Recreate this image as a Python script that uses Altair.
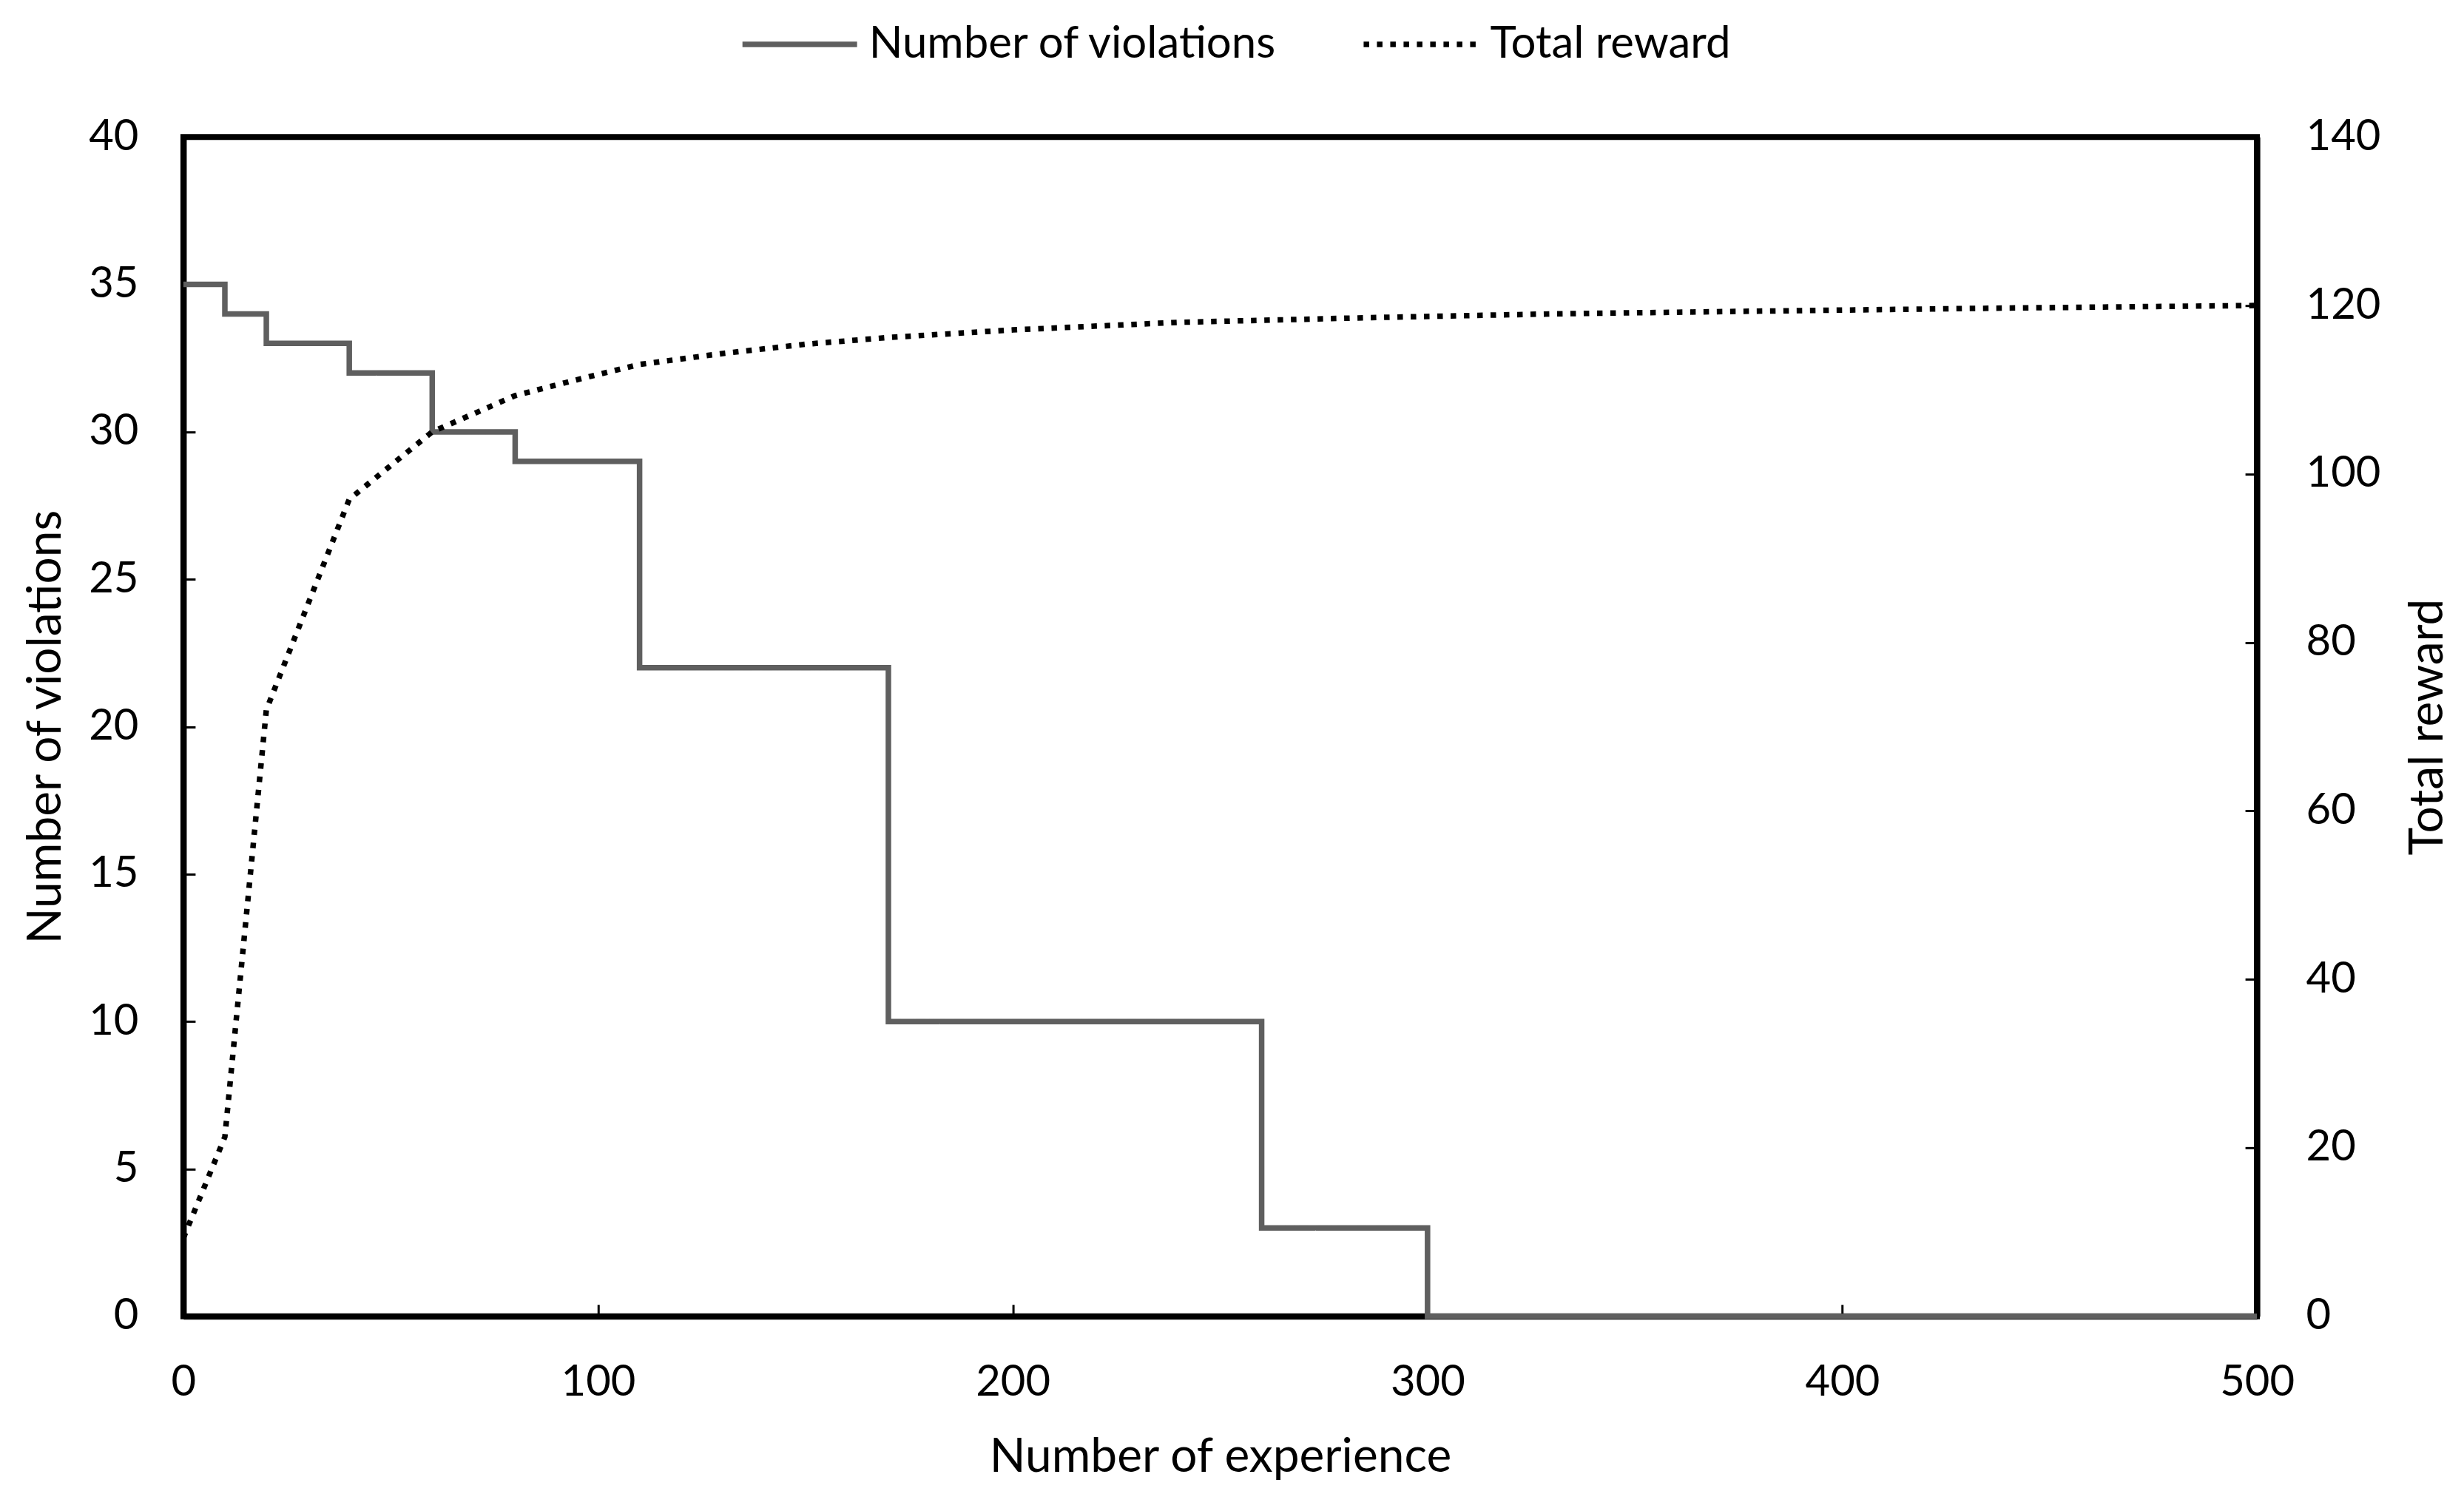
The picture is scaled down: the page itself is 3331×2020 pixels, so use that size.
import altair as alt
import pandas as pd

# ---- data ----
series_names = ["Number of violations", "Total reward"]

viol_x = [0, 10, 20, 40, 60, 80, 110, 170, 260, 300, 500]
viol_y = [35, 34, 33, 32, 30, 29, 22, 10, 3, 0, 0]

reward_x = [0, 10, 20, 40, 60, 80, 95, 110, 130, 150, 170, 200, 240, 290, 330, 375, 440, 500]
reward_y = [9.3, 21.3, 72, 97, 105, 109.3, 111.2, 113, 114.3, 115.4, 116.2, 117.1, 118, 118.6, 119.0, 119.3, 119.7, 120.0]

x_ticks = [0, 100, 200, 300, 400, 500]
left_ticks = [0, 5, 10, 15, 20, 25, 30, 35, 40]
right_ticks = [0, 20, 40, 60, 80, 100, 120, 140]

FONT = "Lato"
TICK_FS = 58
TITLE_FS = 64

viol_df = pd.DataFrame({"exp": viol_x, "violations": viol_y, "series": series_names[0]})
reward_df = pd.DataFrame({"exp": reward_x, "reward": reward_y, "series": series_names[1]})

common_axis = dict(
    domainColor="black",
    domainWidth=8,
    tickColor="black",
    tickWidth=3,
    tickSize=alt.ExprRef(expr="-16"),
    grid=False,
    labelFont=FONT,
    labelFontSize=TICK_FS,
    labelColor="black",
    labelOverlap=False,
    titleFont=FONT,
    titleFontSize=TITLE_FS,
    titleFontWeight="normal",
    titleColor="black",
)

legend = alt.Legend(
    title=None,
    orient="none",
    legendX=752,
    legendY=-207,
    direction="horizontal",
    symbolType="stroke",
    symbolSize=24025,
    symbolStrokeWidth=7.5,
    labelFont=FONT,
    labelFontSize=60,
    labelColor="black",
    labelOffset=12,
    labelLimit=1500,
    columnPadding=100,
)

color = alt.Color(
    "series:N",
    scale=alt.Scale(domain=series_names, range=["#5f5f5f", "#000000"]),
    legend=legend,
)
dash = alt.StrokeDash(
    "series:N",
    scale=alt.Scale(domain=series_names, range=[[1, 0], [7.5, 10.5]]),
    legend=legend,
)

x_enc = alt.X(
    "exp:Q",
    scale=alt.Scale(domain=[0, 500], nice=False),
    axis=alt.Axis(
        values=x_ticks,
        title="Number of experience",
        labelPadding=77,
        titlePadding=40,
        labelFlush=False,
        **common_axis,
    ),
)

viol_line = alt.Chart(viol_df).mark_line(
    interpolate="step-after", strokeWidth=7.5
).encode(
    x=x_enc,
    y=alt.Y(
        "violations:Q",
        scale=alt.Scale(domain=[0, 40], nice=False),
        axis=alt.Axis(
            orient="left",
            values=left_ticks,
            title="Number of violations",
            labelPadding=77,
            titlePadding=25,
            **common_axis,
        ),
    ),
    color=color,
    strokeDash=dash,
)

reward_line = alt.Chart(reward_df).mark_line(strokeWidth=7.5).encode(
    x=x_enc,
    y=alt.Y(
        "reward:Q",
        scale=alt.Scale(domain=[0, 140], nice=False),
        axis=alt.Axis(
            orient="right",
            values=right_ticks,
            title="Total reward",
            titleAngle=270,
            titleBaseline="top",
            labelPadding=82,
            titlePadding=33,
            **common_axis,
        ),
    ),
    color=color,
    strokeDash=dash,
)

chart = (
    alt.layer(viol_line, reward_line)
    .resolve_scale(y="independent")
    .properties(
        width=2804,
        height=1595,
        padding={"left": 240, "top": 177, "right": 272, "bottom": 236},
        autosize=alt.AutoSizeParams(type="none"),
        background="white",
    )
    .configure_view(stroke="black", strokeWidth=8)
)

chart.save("out.html", embed_options={"renderer": "svg", "actions": False})
